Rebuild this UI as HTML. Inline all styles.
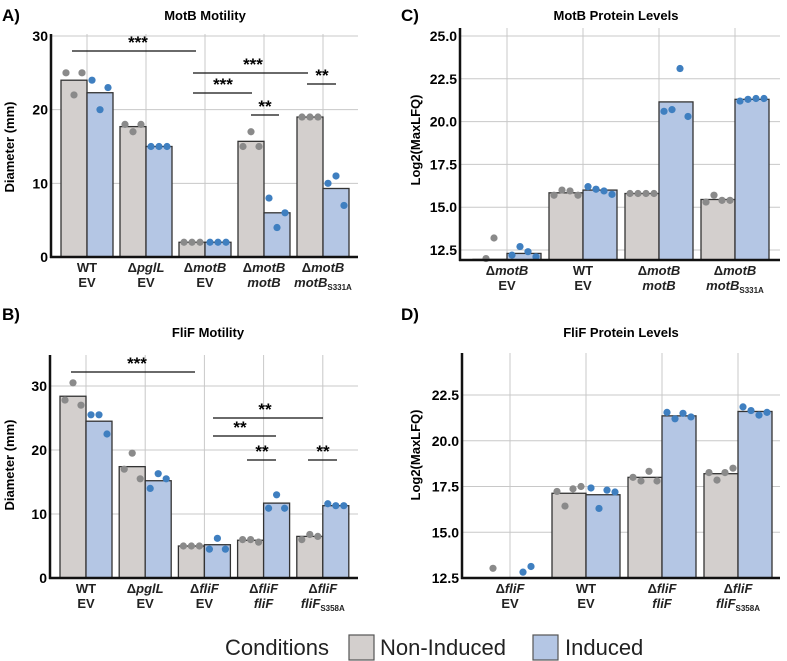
<!DOCTYPE html>
<html><head><meta charset="utf-8"><style>
html,body{margin:0;padding:0;background:#fff;}
svg{display:block;font-family:"Liberation Sans",Arial,sans-serif;}
</style></head><body>
<svg id="fig" width="787" height="661" viewBox="0 0 787 661" xmlns="http://www.w3.org/2000/svg">
<text x="2" y="21" font-size="17" font-weight="bold">A)</text>
<text x="2" y="320" font-size="17" font-weight="bold">B)</text>
<text x="401" y="21" font-size="17" font-weight="bold">C)</text>
<text x="401" y="320" font-size="17" font-weight="bold">D)</text>
<text x="205" y="20" font-size="13" font-weight="bold" text-anchor="middle">MotB Motility</text>
<text x="208" y="337" font-size="13" font-weight="bold" text-anchor="middle">FliF Motility</text>
<text x="616" y="20" font-size="13" font-weight="bold" text-anchor="middle">MotB Protein Levels</text>
<text x="621" y="337" font-size="13" font-weight="bold" text-anchor="middle">FliF Protein Levels</text>
<text transform="translate(14,147) rotate(-90)" font-size="13" font-weight="bold" text-anchor="middle">Diameter (mm)</text>
<text transform="translate(14,465) rotate(-90)" font-size="13" font-weight="bold" text-anchor="middle">Diameter (mm)</text>
<text transform="translate(420,140) rotate(-90)" font-size="13" font-weight="bold" text-anchor="middle">Log2(MaxLFQ)</text>
<text transform="translate(420,455) rotate(-90)" font-size="13" font-weight="bold" text-anchor="middle">Log2(MaxLFQ)</text>
<g>
<text x="329" y="655" font-size="22" fill="#222" text-anchor="end">Conditions</text>
<rect x="349" y="635" width="25" height="25" fill="#d3cfcd" stroke="#555" stroke-width="1.2"/>
<text x="380" y="655" font-size="22" fill="#222">Non-Induced</text>
<rect x="533" y="635" width="25" height="25" fill="#b4c6e4" stroke="#555" stroke-width="1.2"/>
<text x="565" y="655" font-size="22" fill="#222">Induced</text>
</g>
</svg>
<script>
// ---- Panel A data (MotB motility)
const aCats = ["WT EV","pglL EV","motB EV","motB motB","motB S331A"];
const aGreyBars = [24.0,17.7,2.0,15.7,19.0];
const aBlueBars = [22.3,15.0,2.0,6.0,9.3];
const aGreyPts = [[25,22,25],[18,17,18],[2,2,2],[15,17,15],[19,19,19]];
const aBluePts = [[24,20,23],[15,15,15],[2,2,2],[8,4,6],[10,11,7]];
const aTicks = [0,10,20,30];
// ---- Panel B data (FliF motility)
const bCats = ["WT EV","pglL EV","fliF EV","fliF fliF","fliF S358A"];
const bGreyBars = [28.4,17.4,5.0,5.9,6.5];
const bBlueBars = [24.5,15.2,5.2,11.7,11.3];
const bGreyPts = [[27.8,30.5,27.0],[17.0,19.5,15.5],[5,5,5],[6.0,6.0,5.6],[6.0,6.8,6.5]];
const bBluePts = [[25.5,25.5,22.5],[14.0,16.3,15.5],[4.5,6.2,4.5],[10.9,13.0,10.9],[11.6,11.3,11.3]];
const bTicks = [0,10,20,30];
// ---- Panel C data (MotB protein)
const cCats = ["motB EV","WT EV","motB motB","motB S331A"];
const cGreyBars = [11.95,15.84,15.8,15.45];
const cBlueBars = [12.3,16.0,21.15,21.3];
const cGreyPts = [[12.0,13.2],[15.7,16.0,15.95,15.7],[15.8,15.8,15.8,15.8],[15.3,15.7,15.4,15.4]];
const cBluePts = [[12.2,12.7,12.4,12.1],[16.2,16.05,15.95,15.75],[20.6,20.7,23.1,20.3],[21.2,21.3,21.35,21.35]];
const cTicks = [12.5,15.0,17.5,20.0,22.5,25.0];
// ---- Panel D data (FliF protein)
const dCats = ["fliF EV","WT EV","fliF fliF","fliF S358A"];
const dGreyBars = [null,17.13,18.0,18.2];
const dBlueBars = [null,17.05,21.36,21.6];
const dGreyPts = [[13.03],[17.23,16.43,17.37,17.5],[18.0,17.8,18.33,17.8],[18.26,17.85,18.26,18.5]];
const dBluePts = [[12.82,13.13],[17.42,16.3,17.3,17.2],[21.55,21.2,21.5,21.3],[21.85,21.65,21.4,21.55]];
const dTicks = [12.5,15.0,17.5,20.0,22.5];

const NS="http://www.w3.org/2000/svg";
const svg=document.getElementById('fig');
function mk(tag,attrs,parent){const e=document.createElementNS(NS,tag);for(const k in attrs)e.setAttribute(k,attrs[k]);(parent||svg).appendChild(e);return e;}

const labelDefs={
 "WT EV":[[["WT",0]],[["EV",0]]],
 "pglL EV":[[["Δ",0],["pglL",1]],[["EV",0]]],
 "motB EV":[[["Δ",0],["motB",1]],[["EV",0]]],
 "motB motB":[[["Δ",0],["motB",1]],[["motB",1]]],
 "motB S331A":[[["Δ",0],["motB",1]],[["motB",1],["S331A",2]]],
 "fliF EV":[[["Δ",0],["fliF",1]],[["EV",0]]],
 "fliF fliF":[[["Δ",0],["fliF",1]],[["fliF",1]]],
 "fliF S358A":[[["Δ",0],["fliF",1]],[["fliF",1],["S358A",2]]]
};

function panel(o){
 const g=mk('g',{});
 
 
 const y=v=>o.yPx0+(v-o.v0)*(o.yPx1-o.yPx0)/(o.v1-o.v0);
 const x=i=>o.cx0+i*o.step;
 o.ticks.forEach(t=>{
  const gl=mk('line',{x1:o.ax,x2:o.right,y1:y(t),y2:y(t),stroke:'#c8c8c8','stroke-width':1},g);
  
  
  const tl=mk('text',{x:o.ax-3,y:y(t)+5,'font-size':14,'font-weight':'bold','text-anchor':'end'},g);
  tl.textContent=o.tickFmt(t);
  
  
 });
 o.cats.forEach((c,i)=>{
  const vl=mk('line',{x1:x(i),x2:x(i),y1:o.top,y2:o.bottom,stroke:'#c8c8c8','stroke-width':1},g);
  
  
 });
 const bw=o.bw;
 function series(bars,pts,fill,pcol,side,nm){
  o.cats.forEach((c,i)=>{
   const cx=x(i)+side*bw/2;
   if(bars[i]!==null){
    const top=Math.min(y(bars[i]),o.bottom);
    const r=mk('rect',{x:cx-bw/2,y:top,width:bw,height:o.bottom-top,fill:fill,stroke:'#333','stroke-width':1.3},g);
    
    
   }
   const p=pts[i],n=p.length,sp=8;
   p.forEach((v,j)=>{
    const off=(j-(n-1)/2)*sp;
    const d=mk('circle',{cx:cx+off,cy:y(v),r:3.6,fill:pcol},g);
    
    
   });
  });
 }
 series(o.gb,o.gp,'#d3cfcd','#8a8a8a',-1,'non-induced');
 series(o.bb,o.bp,'#b4c6e4','#3f7fc0',1,'induced');
 const ya=mk('line',{x1:o.ax,x2:o.ax,y1:o.top,y2:o.bottom+1,stroke:'#111','stroke-width':2.5},g);
 
 
 const xa=mk('line',{x1:o.ax-1,x2:o.right,y1:o.bottom,y2:o.bottom,stroke:'#111','stroke-width':2.5},g);
 
 
 o.cats.forEach((c,i)=>{
  const def=labelDefs[c];
  def.forEach((line,li)=>{
   const t=mk('text',{x:x(i),y:o.bottom+15+li*15,'font-size':13,'font-weight':'bold','text-anchor':'middle',fill:'#222'},g);
   
   
   line.forEach(([s,st])=>{
    const ts=mk('tspan',{},t);
    if(st===1)ts.setAttribute('font-style','italic');
    if(st===2){ts.setAttribute('font-size','8');ts.setAttribute('dy','3');}
    ts.textContent=s;
   });
  });
 });
 (o.sig||[]).forEach(s=>{
  const l=mk('line',{x1:s[0],x2:s[1],y1:s[2],y2:s[2],stroke:'#111','stroke-width':1.2},g);
  
  
  const t=mk('text',{x:(s[3]),y:s[2]-3,'font-size':17,'font-weight':'bold','text-anchor':'middle'},g);
  t.textContent=s[4];
  
  
 });
}
const f0=t=>String(t), f1=t=>t.toFixed(1);
panel({name:'panel-a-chart',cats:aCats,gb:aGreyBars,bb:aBlueBars,gp:aGreyPts,bp:aBluePts,ticks:aTicks,tickFmt:f0,
 ax:51,right:358,top:34,bottom:257,yPx0:257,v0:0,yPx1:36,v1:30,cx0:87,step:59,bw:26,
 sig:[[72,196,51,138,'***'],[193,308,73,253,'***'],[193,252,93,223,'***'],[251,279,115,265,'**'],[307,336,84,322,'**']]});
panel({name:'panel-b-chart',cats:bCats,gb:bGreyBars,bb:bBlueBars,gp:bGreyPts,bp:bBluePts,ticks:bTicks,tickFmt:f0,
 ax:50,right:358,top:355,bottom:578,yPx0:578,v0:0,yPx1:386,v1:30,cx0:86,step:59.2,bw:26,
 sig:[[71,195,372,137,'***'],[213,323,418,265,'**'],[213,276,436,240,'**'],[247,276,460,262,'**'],[308,337,460,323,'**']]});
panel({name:'panel-c-chart',cats:cCats,gb:cGreyBars,bb:cBlueBars,gp:cGreyPts,bp:cBluePts,ticks:cTicks,tickFmt:f1,
 ax:460,right:780,top:28,bottom:260,yPx0:250,v0:12.5,yPx1:36,v1:25,cx0:507,step:76,bw:34});
panel({name:'panel-d-chart',cats:dCats,gb:dGreyBars,bb:dBlueBars,gp:dGreyPts,bp:dBluePts,ticks:dTicks,tickFmt:f1,
 ax:462,right:780,top:353,bottom:578,yPx0:578,v0:12.5,yPx1:395,v1:22.5,cx0:510,step:76,bw:34});
</script>
</body></html>
